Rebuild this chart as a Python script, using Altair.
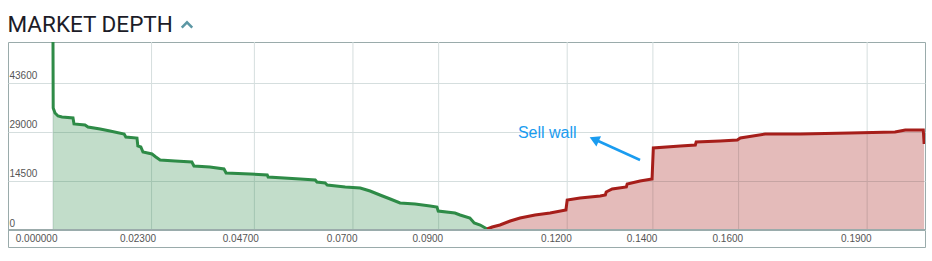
import altair as alt
import pandas as pd

# ---- data ----
bid_price = [0.0, 0.00005, 0.00047, 0.00117, 0.0021, 0.00467, 0.0049, 0.00747, 0.00817, 0.011,
             0.0133, 0.0166, 0.0170, 0.0196, 0.0198, 0.0205, 0.0210, 0.0231, 0.0240, 0.0250,
             0.0285, 0.0324, 0.0329, 0.0366, 0.0399, 0.0404, 0.0460, 0.0500, 0.0502, 0.0577,
             0.0612, 0.0616, 0.0635, 0.0640, 0.0682, 0.0717, 0.0740, 0.0763, 0.0787, 0.0810,
             0.0845, 0.0880, 0.0896, 0.0899, 0.0938, 0.0950, 0.0973, 0.0983, 0.0997, 0.1013]
bid_depth = [55600, 36100, 34620, 33730, 33440, 33140, 31370, 31070, 30480, 29890,
             29290, 28410, 27520, 27220, 24860, 24560, 23080, 22490, 21600, 20710,
             20420, 20120, 18940, 18640, 18050, 16870, 16570, 16270, 15680, 15090,
             14800, 14200, 13910, 13320, 12720, 12430, 11540, 10360, 9170, 7990,
             7690, 7100, 6810, 5620, 5030, 4440, 3550, 2070, 1480, 300]

ask_price = [0.1013, 0.1025, 0.1043, 0.1067, 0.1090, 0.1125, 0.1160, 0.1197, 0.1200, 0.1230,
             0.1277, 0.1289, 0.1291, 0.1305, 0.1338, 0.1340, 0.1370, 0.1398, 0.1401, 0.1464,
             0.1499, 0.1501, 0.1557, 0.1597, 0.1604, 0.1662, 0.1744, 0.1860, 0.1965, 0.1989,
             0.2031, 0.2033]
ask_depth = [300, 890, 1480, 2660, 3550, 4440, 5030, 5920, 8880, 9470,
             10060, 10360, 11240, 12130, 12720, 13610, 14500, 15090, 24260, 24860,
             25150, 26040, 26340, 26630, 27220, 28410, 28410, 28700, 29000, 29590,
             29590, 25450]

x_tick_values = [0, 0.023, 0.047, 0.07, 0.09, 0.12, 0.14, 0.16, 0.19]
x_tick_labels = ["0.000000", "0.02300", "0.04700", "0.0700", "0.0900",
                 "0.1200", "0.1400", "0.1600", "0.1900"]
y_tick_values = [0, 14500, 29000, 43600]

annotation_text = ["Sell wall"]

# ---- frames ----
bids = pd.DataFrame({"price": bid_price, "depth": bid_depth})
asks = pd.DataFrame({"price": ask_price, "depth": ask_depth})
xticks = pd.DataFrame({"price": x_tick_values})

X_DOMAIN = [-0.0105, 0.2035]
Y_DOMAIN = [-5030, 55630]

label_expr = " : ".join(
    f"abs(datum.value - {v}) < 0.000001 ? '{l}'" for v, l in zip(x_tick_values, x_tick_labels)
) + " : ''"

x_enc = alt.X(
    "price:Q",
    scale=alt.Scale(domain=X_DOMAIN, nice=False, zero=False),
    axis=alt.Axis(
        values=x_tick_values, labelExpr=label_expr, grid=False, domain=False, ticks=False,
        labelPadding=-14, labelAlign="right", labelOffset=4, labelBaseline="top",
        labelFontSize=10, labelFont="Liberation Sans", labelColor="#555555", title=None,
        labelOverlap=False,
    ),
)
y_enc = alt.Y(
    "depth:Q",
    scale=alt.Scale(domain=Y_DOMAIN, nice=False, zero=False),
    axis=alt.Axis(
        values=y_tick_values, format="d", grid=True, gridColor="#d5dede", gridWidth=1,
        domain=False, ticks=False, tickSize=0, labelAlign="left", labelPadding=-1,
        labelBaseline="bottom", labelOffset=-2, labelFontSize=10, labelFont="Liberation Sans",
        labelColor="#555555", title=None,
    ),
)

vgrid = alt.Chart(xticks).mark_rule(color="#d5dede", strokeWidth=1).encode(
    x=alt.X("price:Q"), y=alt.datum(0), y2=alt.value(0)
)

bid_area = alt.Chart(bids).mark_area(color="#2e8b47", opacity=0.29, clip=True).encode(
    x=x_enc, y=y_enc, y2=alt.datum(0)
)
ask_area = alt.Chart(asks).mark_area(color="#a61e1a", opacity=0.3, clip=True).encode(
    x="price:Q", y="depth:Q", y2=alt.datum(0)
)
bid_line = alt.Chart(bids).mark_line(color="#2e8b47", strokeWidth=3, clip=True).encode(
    x="price:Q", y="depth:Q"
)
ask_line = alt.Chart(asks).mark_line(color="#a61e1a", strokeWidth=3, clip=True).encode(
    x="price:Q", y="depth:Q"
)
zero_rule = alt.Chart(xticks).mark_rule(color="#9aabab", strokeWidth=1).encode(
    y=alt.datum(0)
)

ann = pd.DataFrame({"price": [0.1085], "depth": [27220], "label": annotation_text})
ann_text = alt.Chart(ann).mark_text(
    align="left", baseline="alphabetic", fontSize=16, font="Liberation Sans", color="#1a9cf0"
).encode(x="price:Q", y="depth:Q", text="label:N")

arrow = pd.DataFrame({"price": [0.1370], "depth": [20710], "price2": [0.1262], "depth2": [26930]})
arrow_shaft = alt.Chart(arrow).mark_rule(color="#1a9cf0", strokeWidth=2.5).encode(
    x="price:Q", y="depth:Q", x2="price2:Q", y2="depth2:Q"
)
head = pd.DataFrame({"price": [0.1263], "depth": [26830]})
arrow_head = alt.Chart(head).mark_point(
    shape="triangle-up", size=130, filled=True, color="#1a9cf0", opacity=1, angle=294
).encode(x="price:Q", y="depth:Q")

caret = alt.Chart(xticks.head(1)).mark_point(
    shape="M-1,0.5L0,-0.5L1,0.5", size=110, filled=False, color="#5c97a4", strokeWidth=2.5, opacity=1
).encode(x=alt.value(179), y=alt.value(-17))

chart = alt.layer(
    vgrid, bid_area, ask_area, bid_line, ask_line, zero_rule,
    arrow_shaft, arrow_head, ann_text, caret
).properties(
    width=917, height=205,
    title=alt.Title("MARKET DEPTH", anchor="start", fontSize=22.5, font="Roboto",
                    fontWeight="normal", color="#1c1c28", offset=10, dy=29),
    autosize=alt.AutoSizeParams(type="none"),
    padding={"left": 8, "top": 42, "right": 7, "bottom": 14},
).configure_view(stroke="#9aabab", strokeWidth=1)

chart.save("out.html", embed_options={"renderer": "svg", "actions": False})
